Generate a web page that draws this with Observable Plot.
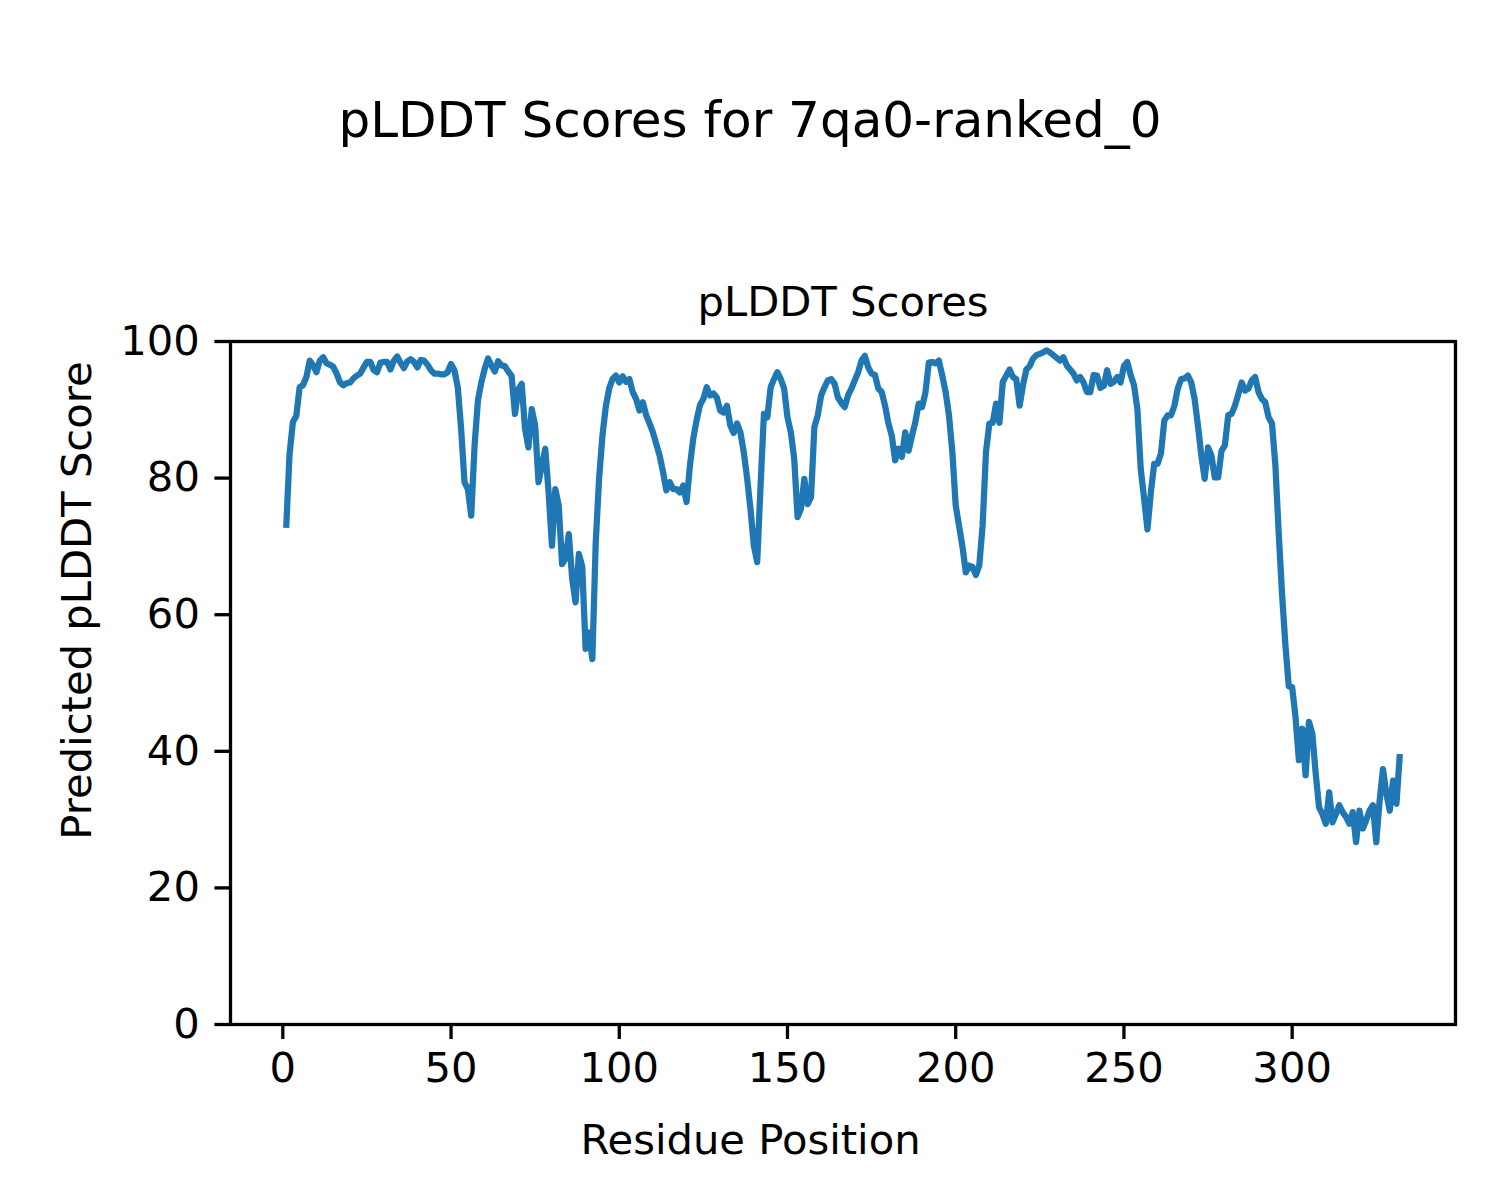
<!DOCTYPE html>
<html>
<head>
<meta charset="utf-8">
<script src="https://cdn.jsdelivr.net/npm/d3@7"></script>
<script src="https://cdn.jsdelivr.net/npm/@observablehq/plot@0.6"></script>
<style>
  html, body { margin: 0; padding: 0; background: white; }
  #wrap { width: 1500px; }
  #suptitle { position: relative; height: 200px; width: 1500px; }
  #suptitle span { position: absolute; left: 0; width: 1500px; top: 95px; text-align: center;
    font-family: "DejaVu Sans", sans-serif; font-size: 50px; line-height: 50px; color: black; white-space: nowrap; }
</style>
</head>
<body>
<div id="wrap">
  <div id="suptitle"><span>pLDDT Scores for 7qa0-ranked_0</span></div>
  <div id="chart"></div>
</div>
<script>
const suptitle = "pLDDT Scores for 7qa0-ranked_0";
const axesTitle = "pLDDT Scores";
const xLabel = "Residue Position";
const yLabel = "Predicted pLDDT Score";
const xTicks = [0, 50, 100, 150, 200, 250, 300];
const yTicks = [0, 20, 40, 60, 80, 100];

// pLDDT per residue (residues 1..332)
const plddt = [
  72.7, 83.5, 88.2, 89.1, 93.3, 93.6, 94.8, 97.2, 96.5, 95.5,
  97.2, 97.7, 96.8, 96.6, 96.3, 95.3, 94.0, 93.6, 93.9, 94.0,
  94.6, 95.0, 95.3, 96.2, 97.0, 97.0, 95.8, 95.5, 96.9, 97.0,
  97.0, 95.9, 97.2, 97.8, 96.9, 96.1, 97.1, 97.4, 97.0, 96.2,
  97.3, 97.2, 96.6, 95.8, 95.3, 95.3, 95.2, 95.2, 95.5, 96.7,
  95.8, 93.3, 87.2, 79.4, 78.4, 74.5, 84.8, 91.4, 94.0, 96.0,
  97.5, 96.5, 95.6, 97.1, 96.5, 96.4, 95.6, 95.0, 89.4, 93.0,
  93.8, 87.2, 84.5, 90.1, 87.7, 79.4, 81.8, 84.3, 77.9, 70.1,
  78.4, 76.0, 67.4, 68.2, 71.8, 65.3, 61.8, 68.9, 67.0, 55.0,
  57.4, 53.5, 70.5, 79.9, 86.2, 90.5, 93.1, 94.5, 95.0, 94.0,
  94.9, 94.1, 94.5, 92.6, 91.6, 89.9, 91.1, 89.2, 88.0, 86.7,
  85.0, 83.3, 80.9, 78.2, 79.4, 78.4, 78.4, 77.9, 78.9, 76.5,
  81.8, 85.8, 88.5, 90.7, 91.6, 93.3, 92.1, 92.4, 91.8, 89.9,
  89.6, 90.6, 87.7, 86.6, 88.0, 86.7, 83.8, 80.0, 75.5, 70.1,
  67.7, 78.9, 89.4, 88.9, 93.3, 94.5, 95.5, 94.5, 93.1, 88.9,
  86.7, 82.8, 74.3, 75.5, 79.9, 76.2, 77.2, 87.5, 89.2, 92.1,
  93.3, 94.3, 94.5, 93.8, 91.8, 91.0, 90.4, 92.1, 93.1, 94.3,
  95.5, 97.2, 97.9, 96.2, 95.3, 95.1, 93.1, 92.6, 90.6, 88.0,
  86.2, 82.6, 84.3, 83.1, 86.7, 84.0, 86.2, 88.2, 90.9, 90.4,
  92.5, 96.9, 97.0, 96.8, 97.2, 95.0, 92.6, 89.2, 83.8, 76.0,
  73.0, 70.0, 66.2, 67.2, 67.0, 65.8, 67.2, 73.1, 83.8, 88.0,
  88.1, 90.9, 88.1, 94.1, 95.0, 95.9, 94.8, 94.5, 90.6, 93.6,
  95.9, 96.4, 97.5, 98.0, 98.2, 98.4, 98.7, 98.4, 98.0, 97.6,
  97.2, 97.7, 96.5, 95.9, 95.3, 94.3, 94.8, 94.0, 92.6, 92.6,
  95.1, 95.0, 93.2, 93.5, 95.8, 93.8, 94.1, 94.8, 94.0, 96.4,
  97.0, 95.1, 93.6, 90.1, 81.3, 77.0, 72.5, 77.9, 82.1, 82.1,
  83.6, 88.4, 89.2, 89.2, 90.6, 93.1, 94.5, 94.6, 95.0, 94.0,
  91.6, 87.7, 83.3, 79.9, 84.5, 83.3, 80.1, 80.1, 84.0, 84.8,
  89.2, 89.4, 90.6, 92.3, 94.0, 92.8, 93.1, 94.3, 94.8, 92.6,
  91.6, 91.1, 88.9, 88.0, 82.0, 72.0, 63.0, 55.5, 49.5, 49.4,
  45.0, 38.7, 43.3, 36.5, 44.3, 42.6, 36.7, 31.8, 30.8, 29.4,
  34.0, 29.6, 30.8, 32.1, 31.1, 30.4, 29.4, 31.1, 26.7, 31.3,
  28.7, 29.9, 31.3, 32.1, 26.7, 32.8, 37.4, 33.8, 31.3, 35.7,
  32.3, 39.6
];
const residues = plddt.map((_, i) => i + 1);
const data = residues.map((r, i) => ({residue: r, score: plddt[i]}));

document.querySelector("#suptitle span").textContent = suptitle;

const fs = 41.7;
const chart = Plot.plot({
  width: 1500,
  height: 1000,
  marginLeft: 230,
  marginRight: 45,
  marginTop: 141,
  marginBottom: 176,
  style: {fontFamily: "DejaVu Sans, sans-serif", fontSize: fs + "px", background: "white", color: "black"},
  x: {domain: [-15.55, 348.55]},
  y: {domain: [0, 100]},
  marks: [
    Plot.lineY(data, {x: "residue", y: "score", stroke: "#1f77b4", strokeWidth: 6.25, strokeLinejoin: "round", strokeLinecap: "butt"}),
    Plot.frame({stroke: "black", strokeWidth: 3.3}),
    Plot.axisX({ticks: xTicks, tickSize: 15, tickPadding: 13, fontSize: fs, strokeWidth: 3.3, label: null, tickFormat: d => String(d)}),
    Plot.axisY({ticks: yTicks, tickSize: 15.6, tickPadding: 15, fontSize: fs, strokeWidth: 3.3, label: null, tickFormat: d => String(d)}),
    Plot.text([axesTitle], {frameAnchor: "top", textAnchor: "middle", lineAnchor: "bottom", dy: -26, fontSize: fs, fill: "black"}),
    Plot.text([xLabel], {frameAnchor: "bottom", textAnchor: "middle", lineAnchor: "bottom", dx: -92.5, dy: 129, fontSize: fs, fill: "black"}),
    Plot.text([yLabel], {frameAnchor: "left", textAnchor: "middle", lineAnchor: "bottom", rotate: -90, dx: -140, dy: -82.5, fontSize: fs, fill: "black"})
  ]
});
document.getElementById("chart").appendChild(chart);
</script>
</body>
</html>
